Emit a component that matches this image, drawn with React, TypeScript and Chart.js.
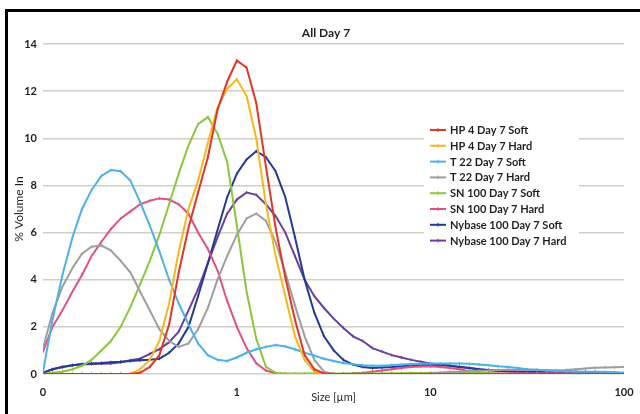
import React, { useEffect, useRef } from "react";
import { Chart, registerables } from "chart.js";
Chart.register(...registerables);

const TITLE = "All Day 7";
const Y_TITLE = "% Volume In";
const X_TITLE = "Size [µm]";
const X_TICKS = [0.1, 1, 10, 100];
const X_TICK_LABELS = ["0", "1", "10", "100"];
const Y_MIN = 0;
const Y_MAX = 14;
const Y_STEP = 2;

const SIZES = [0.1, 0.112, 0.126, 0.142, 0.159, 0.178, 0.2, 0.224, 0.252, 0.283, 0.317, 0.356, 0.399, 0.448, 0.502, 0.564, 0.632, 0.71, 0.796, 0.893, 1.002, 1.125, 1.262, 1.416, 1.589, 1.783, 2, 2.244, 2.518, 2.825, 3.17, 3.557, 3.991, 4.477, 5.024, 5.637, 6.325, 7.096, 7.962, 8.934, 10.024, 11.247, 12.619, 14.159, 15.887, 17.825, 20, 22.44, 25.179, 28.251, 31.698, 35.566, 39.905, 44.774, 50.238, 56.368, 63.246, 70.963, 79.621, 89.337, 100];

const HP4_SOFT = [0, 0, 0, 0, 0, 0, 0, 0, 0, 0, 0.05, 0.3, 0.8, 2.1, 4.3, 6.2, 7.7, 9.2, 11.2, 12.4, 13.3, 13.0, 11.5, 8.8, 6.2, 4.1, 2.3, 0.8, 0.2, 0.02, 0, 0, 0, 0, 0, 0, 0, 0, 0, 0, 0, 0, 0, 0, 0, 0, 0, 0, 0, 0, 0, 0, 0, 0, 0, 0, 0, 0, 0, 0, 0];
const HP4_HARD = [0, 0, 0, 0, 0, 0, 0, 0, 0, 0, 0.2, 0.6, 1.4, 3.0, 5.2, 7.0, 8.2, 9.8, 11.3, 12.1, 12.5, 11.8, 10.0, 7.2, 5.0, 3.3, 1.6, 0.6, 0.1, 0, 0, 0, 0, 0, 0, 0, 0, 0, 0, 0, 0, 0, 0, 0, 0, 0, 0, 0, 0, 0, 0, 0, 0, 0, 0, 0, 0, 0, 0, 0, 0];
const T22_SOFT = [0.1, 2.3, 4.2, 5.8, 7.0, 7.8, 8.4, 8.65, 8.6, 8.2, 7.3, 6.3, 5.2, 4.0, 3.0, 2.1, 1.3, 0.8, 0.6, 0.55, 0.7, 0.9, 1.05, 1.15, 1.23, 1.17, 1.05, 0.9, 0.78, 0.65, 0.55, 0.47, 0.41, 0.37, 0.35, 0.35, 0.38, 0.4, 0.42, 0.44, 0.45, 0.45, 0.45, 0.45, 0.43, 0.4, 0.37, 0.33, 0.3, 0.25, 0.2, 0.18, 0.15, 0.13, 0.12, 0.1, 0.1, 0.1, 0.08, 0.07, 0.05];
const T22_HARD = [1.1, 2.6, 3.7, 4.5, 5.1, 5.4, 5.45, 5.25, 4.8, 4.3, 3.5, 2.7, 1.9, 1.4, 1.15, 1.3, 1.9, 2.8, 4.0, 5.0, 5.9, 6.6, 6.8, 6.5, 5.6, 4.3, 2.9, 1.6, 0.6, 0.1, 0, 0, 0, 0, 0, 0, 0, 0, 0, 0, 0.02, 0.05, 0.08, 0.1, 0.12, 0.14, 0.15, 0.17, 0.18, 0.18, 0.18, 0.17, 0.16, 0.16, 0.17, 0.2, 0.23, 0.26, 0.28, 0.29, 0.3];
const SN100_SOFT = [0, 0.05, 0.1, 0.2, 0.35, 0.6, 1.0, 1.4, 2.0, 2.85, 3.8, 4.8, 5.9, 7.2, 8.5, 9.7, 10.6, 10.9, 10.2, 9.0, 6.3, 3.5, 1.5, 0.3, 0.05, 0.02, 0.02, 0.02, 0.02, 0.02, 0.02, 0.02, 0.02, 0.02, 0.02, 0.02, 0.03, 0.03, 0.04, 0.04, 0.05, 0.05, 0.06, 0.07, 0.08, 0.06, 0.03, 0.01, 0, 0, 0, 0, 0, 0, 0, 0, 0, 0, 0, 0, 0];
const SN100_HARD = [0.95, 2.0, 2.7, 3.5, 4.2, 5.0, 5.6, 6.15, 6.6, 6.9, 7.2, 7.35, 7.45, 7.4, 7.2, 6.8, 6.0, 5.3, 4.4, 3.1, 2.0, 1.1, 0.45, 0.15, 0.03, 0, 0, 0, 0, 0, 0, 0, 0.02, 0.05, 0.1, 0.15, 0.2, 0.25, 0.3, 0.32, 0.33, 0.3, 0.25, 0.2, 0.12, 0.07, 0.03, 0.02, 0.02, 0.02, 0.02, 0.02, 0.02, 0.02, 0.02, 0.02, 0.02, 0.02, 0.02, 0.02, 0.02];
const NYBASE_SOFT = [0.05, 0.2, 0.3, 0.37, 0.42, 0.45, 0.47, 0.5, 0.52, 0.55, 0.58, 0.6, 0.65, 0.9, 1.3, 2.0, 3.3, 4.7, 6.1, 7.5, 8.5, 9.1, 9.45, 9.2, 8.6, 7.5, 5.8, 4.0, 2.6, 1.6, 1.0, 0.6, 0.4, 0.3, 0.25, 0.28, 0.3, 0.33, 0.36, 0.38, 0.38, 0.37, 0.35, 0.3, 0.25, 0.2, 0.16, 0.13, 0.11, 0.1, 0.1, 0.1, 0.1, 0.1, 0.1, 0.09, 0.08, 0.07, 0.05, 0.04, 0.02];
const NYBASE_HARD = [0.05, 0.2, 0.3, 0.37, 0.4, 0.42, 0.44, 0.45, 0.5, 0.58, 0.65, 0.85, 1.05, 1.35, 1.8, 2.7, 3.6, 4.7, 5.8, 6.8, 7.4, 7.7, 7.6, 7.2, 6.7, 6.0, 5.0, 4.0, 3.3, 2.8, 2.35, 1.95, 1.6, 1.4, 1.1, 0.95, 0.8, 0.7, 0.6, 0.52, 0.45, 0.4, 0.35, 0.3, 0.25, 0.2, 0.17, 0.15, 0.13, 0.12, 0.11, 0.1, 0.1, 0.1, 0.1, 0.1, 0.09, 0.08, 0.07, 0.05, 0.03];

const SERIES_NAMES = [
  "HP 4 Day 7 Soft",
  "HP 4 Day 7 Hard",
  "T 22 Day 7 Soft",
  "T 22 Day 7 Hard",
  "SN 100 Day 7 Soft",
  "SN 100 Day 7 Hard",
  "Nybase 100 Day 7 Soft",
  "Nybase 100 Day 7 Hard",
];
const SERIES_VALUES = [HP4_SOFT, HP4_HARD, T22_SOFT, T22_HARD, SN100_SOFT, SN100_HARD, NYBASE_SOFT, NYBASE_HARD];
const SERIES_COLORS = ["#e2352a", "#f5b81c", "#4eb0e6", "#9e9e9e", "#8cc63f", "#e04f88", "#233b91", "#6b3f9e"];

const FONT = "Lato, 'Open Sans', sans-serif";
const TEXT_COLOR = "#231f20";

const legendPlugin = {
  id: "insideLegend",
  beforeDatasetsDraw(chart: any) {
    const { ctx, chartArea } = chart;
    ctx.save();
    ctx.fillStyle = "#ffffff";
    ctx.fillRect(chartArea.right - 200, chartArea.top + 76, 155, 132);
    ctx.restore();
  },
  afterDatasetsDraw(chart: any) {
    const { ctx, chartArea } = chart;
    const x0 = chartArea.right - 194;
    const y0 = chartArea.top + 86;
    ctx.save();
    ctx.font = `bold 11px ${FONT}`;
    ctx.textBaseline = "middle";
    ctx.textAlign = "left";
    chart.data.datasets.forEach((ds: any, i: number) => {
      const y = y0 + i * 15.8;
      ctx.strokeStyle = ds.borderColor;
      ctx.lineWidth = 2;
      ctx.beginPath();
      ctx.moveTo(x0, y);
      ctx.lineTo(x0 + 16, y);
      ctx.stroke();
      ctx.lineWidth = 1;
      ctx.beginPath();
      ctx.moveTo(x0 + 8, y - 2);
      ctx.lineTo(x0 + 8, y + 2);
      ctx.stroke();
      ctx.fillStyle = TEXT_COLOR;
      ctx.fillText(ds.label, x0 + 20, y + 0.5);
    });
    ctx.restore();
  },
  afterDraw(chart: any) {
    const { ctx, chartArea } = chart;
    ctx.save();
    ctx.font = `bold 12px ${FONT}`;
    ctx.fillStyle = TEXT_COLOR;
    ctx.textAlign = "center";
    ctx.textBaseline = "middle";
    ctx.fillText(TITLE, chart.width / 2 + 2, chartArea.top - 11);
    ctx.restore();
  },
};

export default function App() {
  const ref = useRef<HTMLCanvasElement | null>(null);
  useEffect(() => {
    if (!ref.current) return;
    document.body.style.overflow = "hidden";
    const datasets = SERIES_NAMES.map((name, i) => ({
      label: name,
      data: SIZES.map((x, j) => ({ x, y: SERIES_VALUES[i][j] })),
      borderColor: SERIES_COLORS[i],
      backgroundColor: SERIES_COLORS[i],
      borderWidth: 2,
      pointStyle: "line",
      pointRotation: 90,
      pointRadius: 1.5,
      pointBorderWidth: 1,
      pointBorderColor: SERIES_COLORS[i],
      tension: 0,
      fill: false,
    }));
    const chart = new Chart(ref.current, {
      type: "line",
      data: { datasets },
      plugins: [legendPlugin],
      options: {
        responsive: false,
        animation: false,
        layout: { padding: { left: 0, right: 16, top: 32, bottom: 0 } },
        plugins: {
          legend: { display: false },
          title: { display: false },
          tooltip: { enabled: false },
        },
        scales: {
          x: {
            type: "logarithmic",
            min: X_TICKS[0],
            max: X_TICKS[X_TICKS.length - 1],
            grid: { display: false },
            border: { display: false },
            afterBuildTicks: (s: any) => {
              s.ticks = X_TICKS.map((v) => ({ value: v }));
            },
            afterFit: (s: any) => {
              s.height = 40;
            },
            ticks: {
              autoSkip: false,
              maxRotation: 0,
              padding: 4,
              color: TEXT_COLOR,
              font: { family: FONT, size: 11, weight: "bold" },
              callback: (v: any) => {
                const k = X_TICKS.indexOf(Number(v));
                return k >= 0 ? X_TICK_LABELS[k] : "";
              },
            },
            title: {
              display: true,
              text: X_TITLE,
              color: TEXT_COLOR,
              font: { family: FONT, size: 11 },
              padding: { top: 0, bottom: 10 },
            },
          },
          y: {
            min: Y_MIN,
            max: Y_MAX,
            grid: { color: "#d3cec6", lineWidth: 1.5, drawTicks: false },
            border: { display: false },
            afterFit: (s: any) => {
              s.width = 35;
            },
            ticks: {
              stepSize: Y_STEP,
              padding: 6,
              color: TEXT_COLOR,
              font: { family: FONT, size: 11, weight: "bold" },
            },
            title: {
              display: true,
              text: Y_TITLE,
              color: TEXT_COLOR,
              font: { family: FONT, size: 12 },
              padding: { top: 4, bottom: 0 },
            },
          },
        },
      },
    } as any);
    return () => chart.destroy();
  }, []);
  return (
    <div
      style={{
        position: "absolute",
        left: 5,
        top: 9,
        width: 632,
        height: 402,
        borderLeft: "3px solid #000",
        borderTop: "3px solid #000",
        background: "#fff",
        overflow: "hidden",
      }}
    >
      <canvas ref={ref} width={632} height={402} style={{ display: "block" }} />
    </div>
  );
}
